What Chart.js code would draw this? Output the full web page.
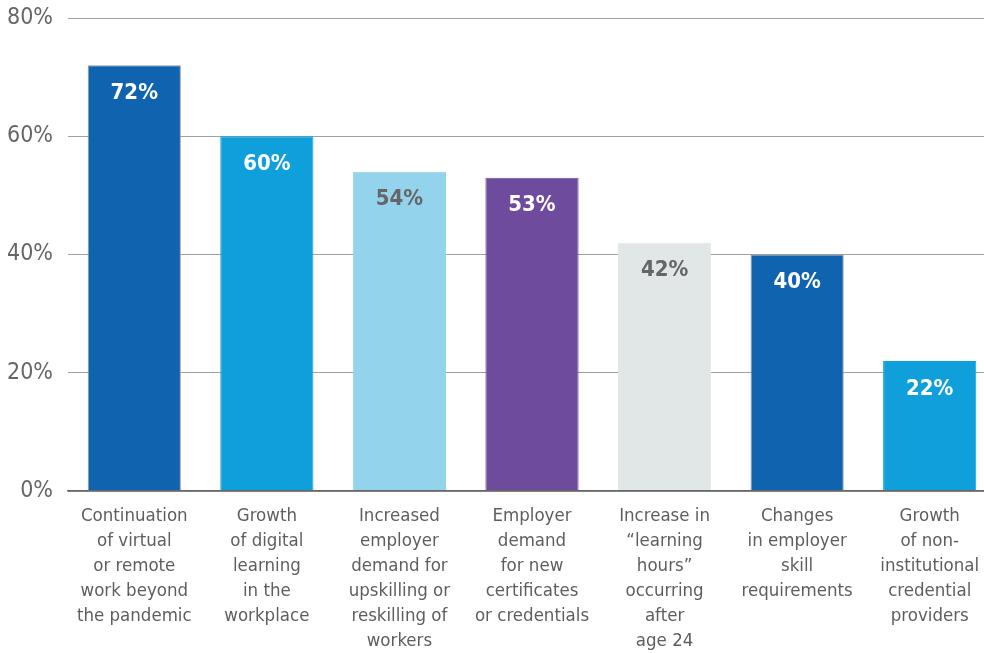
<!DOCTYPE html>
<html>
<head>
<meta charset="utf-8">
<script src="https://cdn.jsdelivr.net/npm/chart.js@4.4.1/dist/chart.umd.min.js"></script>
<style>
  html, body { margin: 0; padding: 0; background: #fff; overflow: hidden; }
  #wrap { width: 996px; height: 653px; }
</style>
</head>
<body>
<div id="wrap"><canvas id="trends"></canvas></div>
<script>
// Survey results: share of respondents per trend
const categories = [
    ['Continuation', 'of virtual', 'or remote', 'work beyond', 'the pandemic'],
    ['Growth', 'of digital', 'learning', 'in the', 'workplace'],
    ['Increased', 'employer', 'demand for', 'upskilling or', 'reskilling of', 'workers'],
    ['Employer', 'demand', 'for new', 'certificates', 'or credentials'],
    ['Increase in', '\u201clearning', 'hours\u201d', 'occurring', 'after', 'age 24'],
    ['Changes', 'in employer', 'skill', 'requirements'],
    ['Growth', 'of non-', 'institutional', 'credential', 'providers']
];
const values = [72, 60, 54, 53, 42, 40, 22];
const yTicks = [0, 20, 40, 60, 80];

const barColors = ['#1063af', '#0f9fdb', '#93d4ec', '#6e4b9c', '#e1e7e7', '#1063af', '#0f9fdb'];
const borderColors = ['#9a9a9a', '#0f9fdb', '#93d4ec', '#6e4b9c', '#e1e7e7', '#9a9a9a', '#0f9fdb'];
const labelColors = ['#ffffff', '#ffffff', '#666666', '#ffffff', '#666666', '#ffffff', '#ffffff'];

const FONT = '"DejaVu Sans Condensed", "Liberation Sans", sans-serif';

// value labels drawn inside the top of each bar
const barValueLabels = {
    id: 'barValueLabels',
    afterDatasetsDraw(chart) {
        const ctx = chart.ctx;
        const meta = chart.getDatasetMeta(0);
        ctx.save();
        ctx.font = 'bold 22px ' + FONT;
        ctx.textAlign = 'center';
        ctx.textBaseline = 'middle';
        meta.data.forEach((bar, i) => {
            ctx.fillStyle = labelColors[i];
            ctx.fillText(values[i] + '%', bar.x, bar.y + 28);
        });
        ctx.restore();
    }
};

new Chart(document.getElementById('trends'), {
    type: 'bar',
    data: {
        labels: categories,
        datasets: [{
            data: values,
            backgroundColor: barColors,
            borderColor: borderColors,
            borderWidth: 1,
            barPercentage: 1,
            categoryPercentage: 0.703
        }]
    },
    options: {
        responsive: true,
        maintainAspectRatio: false,
        animation: false,
        layout: { padding: { top: 18, left: 0, right: 0, bottom: 0 } },
        plugins: {
            legend: { display: false },
            tooltip: { enabled: false }
        },
        scales: {
            x: {
                grid: { display: false, drawTicks: false },
                border: { display: true, color: '#666666', width: 1.5, z: 1 },
                ticks: {
                    color: '#5e5e5e',
                    padding: 13,
                    maxRotation: 0,
                    autoSkip: false,
                    font: { family: FONT, size: 18.5, lineHeight: 1.35 }
                },
                afterFit(scale) {
                    scale.height = 162;
                    scale.paddingLeft = 0;
                    scale.paddingRight = 0;
                }
            },
            y: {
                min: 0,
                max: 80,
                afterBuildTicks(scale) { scale.ticks = yTicks.map(v => ({ value: v })); },
                grid: { color: '#a0a0a0', lineWidth: 1, drawTicks: false },
                border: { display: false },
                ticks: {
                    color: '#666666',
                    padding: 15,
                    font: { family: FONT, size: 23 },
                    callback: v => v + '%'
                },
                afterFit(scale) {
                    scale.width = 68;
                    scale.paddingTop = 0;
                    scale.paddingBottom = 0;
                }
            }
        }
    },
    plugins: [barValueLabels]
});
</script>
</body>
</html>
